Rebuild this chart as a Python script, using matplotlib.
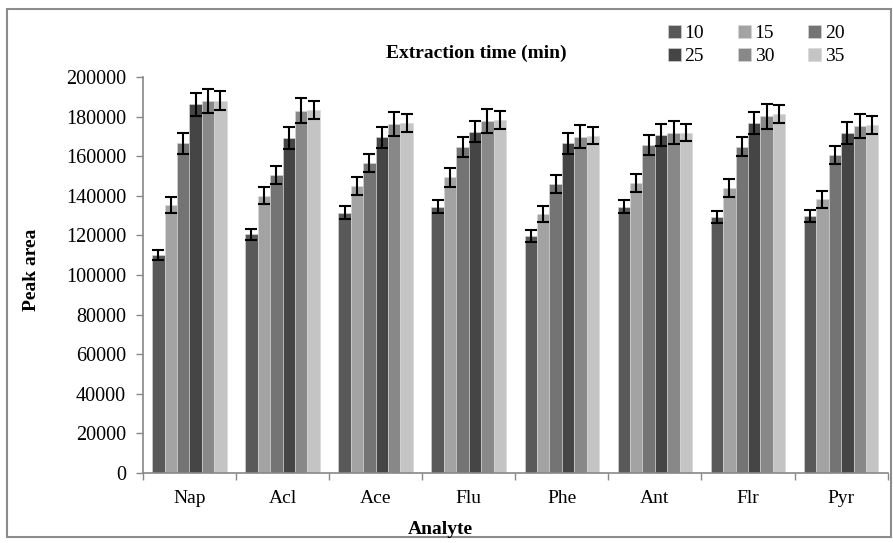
import numpy as np
import matplotlib.pyplot as plt
from matplotlib.patches import Rectangle

analytes = ['Nap', 'Acl', 'Ace', 'Flu', 'Phe', 'Ant', 'Flr', 'Pyr']
times = ['10', '15', '20', '25', '30', '35']

area_10 = [110000, 120500, 131500, 134500, 119500, 134500, 129200, 129800]
area_15 = [135300, 140000, 145000, 149400, 130800, 146500, 143900, 138300]
area_20 = [166500, 150500, 156500, 164500, 146000, 165700, 164900, 160600]
area_25 = [186200, 169200, 169600, 172400, 166500, 170600, 176700, 171600]
area_30 = [187900, 182900, 176400, 178000, 169800, 172000, 180100, 175100]
area_35 = [188100, 183200, 176800, 178400, 170400, 172000, 181300, 176000]

err_10 = [2600, 2900, 3300, 3400, 3000, 3200, 3100, 3200]
err_15 = [4200, 4300, 4500, 4800, 4000, 4500, 4500, 4300]
err_20 = [5200, 4500, 4600, 5000, 4400, 4900, 4800, 4700]
err_25 = [5900, 5400, 5300, 5400, 5400, 5500, 5600, 5500]
err_30 = [6200, 6300, 6100, 6000, 5800, 5900, 6200, 6100]
err_35 = [4800, 4600, 4500, 4500, 4200, 4400, 4500, 4500]

areas = [area_10, area_15, area_20, area_25, area_30, area_35]
errs = [err_10, err_15, err_20, err_25, err_30, err_35]
colors = ['#595959', '#a3a3a3', '#747474', '#454545', '#888888', '#c4c4c4']

plt.rcParams['font.family'] = ['Liberation Serif', 'DejaVu Serif']

fig = plt.figure(figsize=(8.93, 5.43), dpi=100)
ax = fig.add_axes([0.160, 0.129, 0.834, 0.729])

x = np.arange(len(analytes))
width = 0.8 / 6
bars = []
for i in range(6):
    pos = x - 0.4 + width * (i + 0.5)
    b = ax.bar(pos, areas[i], width, color=colors[i], edgecolor='#d8d8d8',
               linewidth=0.4, label=times[i], zorder=2)
    ax.errorbar(pos, areas[i], yerr=errs[i], fmt='none', ecolor='black',
                elinewidth=1.5, capsize=4, capthick=1.5, zorder=3)
    bars.append(b)

ax.set_xlim(-0.5, len(analytes) - 0.5)
ax.set_ylim(0, 200000)
ax.set_yticks(np.arange(0, 200001, 20000))
ax.set_xticks(x)
ax.set_xticklabels(analytes)
ax.set_xticks(np.arange(-0.5, len(analytes), 1), minor=True)
ax.tick_params(axis='x', which='major', length=0, pad=12, labelsize=14)
ax.tick_params(axis='x', which='minor', length=5, color='#888888', width=1)
ax.tick_params(axis='y', length=5, color='#888888', width=1, labelsize=14.5, pad=7)

for s in ['top', 'right']:
    ax.spines[s].set_visible(False)
for s in ['left', 'bottom']:
    ax.spines[s].set_color('#888888')
    ax.spines[s].set_linewidth(1.2)

fig.text(32 / 893, 1 - 270 / 543, 'Peak area', rotation=90, ha='center',
         va='center', fontsize=14, fontweight='bold')
fig.text(440 / 893, 1 - 529 / 543, 'Analyte', ha='center', va='center',
         fontsize=14, fontweight='bold')
fig.text(476 / 893, 1 - 53 / 543, 'Extraction time (min)', ha='center',
         va='center', fontsize=14, fontweight='bold')

order = [0, 3, 1, 4, 2, 5]
leg = fig.legend([bars[i] for i in order], [times[i] for i in order], ncol=3,
                 loc='upper left', bbox_to_anchor=(668 / 893, 1 - 25 / 543),
                 frameon=False, fontsize=14, handlelength=0.65,
                 handleheight=0.65, handletextpad=0.2, columnspacing=1.75,
                 labelspacing=0.28, borderpad=0, borderaxespad=0)

fig.patches.append(Rectangle((7 / 893, 6 / 543), 884 / 893, 528 / 543,
                             transform=fig.transFigure, fill=False,
                             edgecolor='#8c8c8c', linewidth=1.5))

fig.savefig('out.png', dpi=100)
